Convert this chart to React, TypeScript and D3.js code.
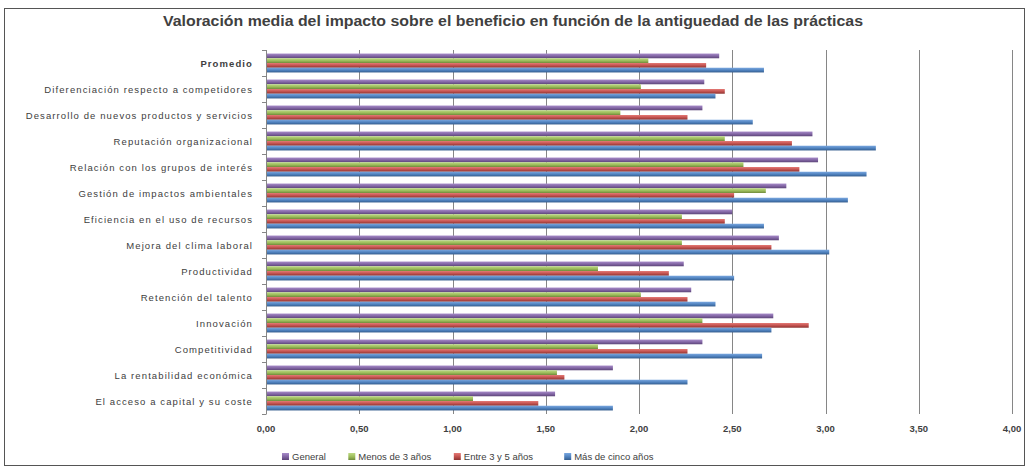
import React from 'react';
import * as d3 from 'd3';

const title = 'Valoración media del impacto sobre el beneficio en función de la antiguedad de las prácticas';

const categories = [
  'Promedio',
  'Diferenciación respecto a competidores',
  'Desarrollo de nuevos productos y servicios',
  'Reputación organizacional',
  'Relación con los grupos de interés',
  'Gestión de impactos ambientales',
  'Eficiencia en el uso de recursos',
  'Mejora del clima laboral',
  'Productividad',
  'Retención del talento',
  'Innovación',
  'Competitividad',
  'La rentabilidad económica',
  'El acceso a capital y su coste',
];

const seriesNames = ['General', 'Menos de 3 años', 'Entre 3 y 5 años', 'Más de cinco años'];

const general = [2.43, 2.35, 2.34, 2.93, 2.96, 2.79, 2.50, 2.75, 2.24, 2.28, 2.72, 2.34, 1.86, 1.55];
const menos3 = [2.05, 2.01, 1.90, 2.46, 2.56, 2.68, 2.23, 2.23, 1.78, 2.01, 2.34, 1.78, 1.56, 1.11];
const entre3y5 = [2.36, 2.46, 2.26, 2.82, 2.86, 2.51, 2.46, 2.71, 2.16, 2.26, 2.91, 2.26, 1.60, 1.46];
const mas5 = [2.67, 2.41, 2.61, 3.27, 3.22, 3.12, 2.67, 3.02, 2.51, 2.41, 2.71, 2.66, 2.26, 1.86];

const xTicks = [0, 0.5, 1, 1.5, 2, 2.5, 3, 3.5, 4];
const xTickLabels = ['0,00', '0,50', '1,00', '1,50', '2,00', '2,50', '3,00', '3,50', '4,00'];

const seriesValues = [general, menos3, entre3y5, mas5];
const colors = [
  { base: '#8064A2', light: '#a78bc9', dark: '#5c4578' },
  { base: '#9BBB59', light: '#bcd983', dark: '#6f8a3b' },
  { base: '#C0504D', light: '#e57a76', dark: '#8c3330' },
  { base: '#4F81BD', light: '#79a7e0', dark: '#345d8e' },
];

const W = 1029;
const H = 469;
const textColor = '#404040';
const font = '"Liberation Sans", Arial, sans-serif';

export default function App() {
  const x = d3.scaleLinear().domain([0, 4]).range([266, 1012]);
  const y = d3.scaleBand<string>().domain(categories).range([50, 414]).padding(0);
  const sub = d3
    .scaleBand<string>()
    .domain(seriesNames)
    .range([0, y.bandwidth()])
    .paddingInner(0)
    .paddingOuter(0.75);

  const boundaries = categories.map((c) => y(c) as number).concat([414]);

  return (
    <svg
      width={W}
      height={H}
      viewBox={`0 0 ${W} ${H}`}
      style={{ position: 'absolute', left: 0, top: 0, background: '#fff' }}
      fontFamily={font}
    >
      <defs>
        {colors.map((c, i) => (
          <linearGradient key={i} id={`g${i}`} x1="0" y1="0" x2="0" y2="1">
            <stop offset="0%" stopColor={c.light} />
            <stop offset="55%" stopColor={c.base} />
            <stop offset="100%" stopColor={c.dark} />
          </linearGradient>
        ))}
      </defs>
      <rect x={0} y={0} width={W} height={H} fill="#fff" />
      <rect x={4.5} y={8.5} width={1020} height={457} fill="#fff" stroke="#555" strokeWidth={1} />

      <text
        x={513}
        y={26}
        textAnchor="middle"
        fontSize={14}
        fontWeight="bold"
        fill={textColor}
        textLength={700}
        lengthAdjust="spacingAndGlyphs"
      >
        {title}
      </text>

      {/* gridlines */}
      {xTicks.slice(1).map((t) => (
        <line
          key={t}
          x1={Math.round(x(t)) + 0.5}
          x2={Math.round(x(t)) + 0.5}
          y1={50}
          y2={414}
          stroke="#868686"
          strokeWidth={1}
        />
      ))}

      {/* bars */}
      {categories.map((c, ci) => (
        <g key={c} transform={`translate(0,${y(c)})`}>
          {seriesNames.map((s, si) => (
            <rect
              key={s}
              x={x(0)}
              y={sub(s)}
              width={x(seriesValues[si][ci]) - x(0)}
              height={sub.bandwidth()}
              fill={`url(#g${si})`}
            />
          ))}
        </g>
      ))}

      {/* category axis */}
      <line x1={Math.round(x(0)) + 0.5} x2={Math.round(x(0)) + 0.5} y1={50} y2={414} stroke="#868686" />
      {boundaries.map((b, i) => (
        <line key={i} x1={Math.round(x(0)) - 4} x2={Math.round(x(0)) + 0.5} y1={Math.round(b) + 0.5} y2={Math.round(b) + 0.5} stroke="#868686" />
      ))}
      {categories.map((c, i) => (
        <text
          key={c}
          x={253}
          y={(y(c) as number) + y.bandwidth() / 2 + 3.5}
          textAnchor="end"
          fontSize={9.5}
          letterSpacing={1.1}
          fontWeight={i === 0 ? 'bold' : 'normal'}
          fill={textColor}
        >
          {c}
        </text>
      ))}

      {/* value axis labels */}
      {xTicks.map((t, i) => (
        <text key={t} x={x(t)} y={432} textAnchor="middle" fontSize={9.5} fontWeight="bold" fill={textColor}>
          {xTickLabels[i]}
        </text>
      ))}

      {/* legend */}
      {(() => {
        let cx = 282;
        return seriesNames.map((s, i) => {
          const g = (
            <g key={s} transform={`translate(${cx},0)`}>
              <rect x={0} y={453} width={7} height={7} fill={`url(#g${i})`} />
              <text x={10} y={460} fontSize={9.5} fill={textColor}>
                {s}
              </text>
            </g>
          );
          cx += 10 + s.length * 4.9 + 22;
          return g;
        });
      })()}
    </svg>
  );
}
